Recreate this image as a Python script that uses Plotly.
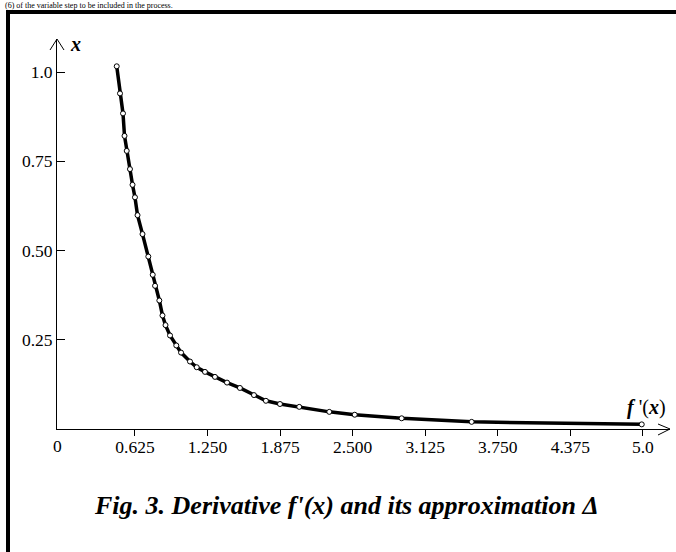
import plotly.graph_objects as go

# ---- data ----
fprime = [0.468, 0.496, 0.522, 0.535, 0.554, 0.582, 0.604, 0.625, 0.647, 0.690,
          0.740, 0.778, 0.798, 0.835, 0.862, 0.888, 0.927, 0.981, 1.022, 1.099,
          1.157, 1.228, 1.314, 1.418, 1.529, 1.650, 1.753, 1.874, 2.040, 2.299,
          2.518, 2.922, 3.525, 4.990]
xvals = [1.016, 0.940, 0.884, 0.821, 0.779, 0.728, 0.684, 0.649, 0.599, 0.546,
         0.483, 0.432, 0.401, 0.360, 0.318, 0.291, 0.262, 0.234, 0.214, 0.189,
         0.173, 0.160, 0.146, 0.130, 0.115, 0.095, 0.079, 0.070, 0.062, 0.048,
         0.040, 0.030, 0.020, 0.013]

x_tickvals = [0.625, 1.25, 1.875, 2.5, 3.125, 3.75, 4.375, 5.0]
x_ticktext = ["0.625", "1.250", "1.875", "2.500", "3.125", "3.750", "4.375", "5.0"]
y_tickvals = [0.25, 0.5, 0.75, 1.0]
y_ticktext = ["0.25", "0.50", "0.75", "1.0"]

W, H = 676, 552
L, R, T, B = 57, 6, 39, 123
PW, PH = W - L - R, H - T - B


def px(xp, yp):
    return (xp - L) / PW, (H - B - yp) / PH


SERIF = "Liberation Serif, Times New Roman, serif"

fig = go.Figure()
fig.add_trace(go.Scatter(
    x=fprime, y=xvals, mode="lines+markers",
    line=dict(color="black", width=3.5),
    marker=dict(symbol="circle", size=5, color="white",
                line=dict(color="black", width=1)),
    showlegend=False, hoverinfo="skip"))

shapes = []
# frame lines (top and left)
x0, y0 = px(6, 12); x1, _ = px(676, 12)
shapes.append(dict(type="line", xref="paper", yref="paper", x0=x0, x1=x1, y0=y0, y1=y0,
                   line=dict(color="black", width=4)))
xl, yt = px(8, 10); _, yb = px(8, 552)
shapes.append(dict(type="line", xref="paper", yref="paper", x0=xl, x1=xl, y0=yt, y1=yb,
                   line=dict(color="black", width=4)))


def chevron(pts):
    p = [px(a, b) for a, b in pts]
    return "M{},{} L{},{} L{},{}".format(p[0][0], p[0][1], p[1][0], p[1][1], p[2][0], p[2][1])


shapes.append(dict(type="path", xref="paper", yref="paper",
                   path=chevron([(50, 50), (57, 39), (64, 50)]),
                   line=dict(color="black", width=1)))
shapes.append(dict(type="path", xref="paper", yref="paper",
                   path=chevron([(658, 424), (670, 429), (658, 435)]),
                   line=dict(color="black", width=1)))

annotations = []


def ann(text, xp, yp, size, xanchor="center", yanchor="middle"):
    ax, ay = px(xp, yp)
    annotations.append(dict(text=text, xref="paper", yref="paper", x=ax, y=ay,
                            xanchor=xanchor, yanchor=yanchor, showarrow=False,
                            borderpad=0,
                            font=dict(family=SERIF, size=size, color="black")))


ann("<b><i>x</i></b>", 69, 44, 20, xanchor="left")
ann("<b><i>f</i></b> '(<b><i>x</i></b>)", 646, 407, 20)
ann("0", 57, 446, 17.5)
ann("<b><i>Fig. 3. Derivative f'(x) and its approximation Δ</i></b>", 346, 505, 26)
ann("(6) of the variable step to be included in the process.", 4, 5.2, 8, xanchor="left")

fig.update_layout(
    width=W, height=H,
    margin=dict(l=L, r=R, t=T, b=B, autoexpand=False),
    paper_bgcolor="white", plot_bgcolor="white",
    shapes=shapes, annotations=annotations,
    font=dict(family=SERIF, size=17.5, color="black"),
    xaxis=dict(range=[(L - 62.4) / 116.1, (W - R - 62.4) / 116.1],
               tickvals=x_tickvals, ticktext=x_ticktext,
               ticks="outside", ticklen=6, tickwidth=1, tickcolor="black",
               ticklabelstandoff=-4,
               showline=True, linecolor="black", linewidth=1,
               showgrid=False, zeroline=False, automargin=False,
               tickfont=dict(family=SERIF, size=17.5, color="black")),
    yaxis=dict(range=[0, (H - B - T) / 357],
               tickvals=y_tickvals, ticktext=y_ticktext,
               ticks="inside", ticklen=8, tickwidth=1, tickcolor="black",
               showline=True, linecolor="black", linewidth=1,
               showgrid=False, zeroline=False, automargin=False,
               tickfont=dict(family=SERIF, size=17.5, color="black")),
)

fig.write_html("out.html", config={"displayModeBar": False},
               post_script="document.body.style.margin='0px';")
